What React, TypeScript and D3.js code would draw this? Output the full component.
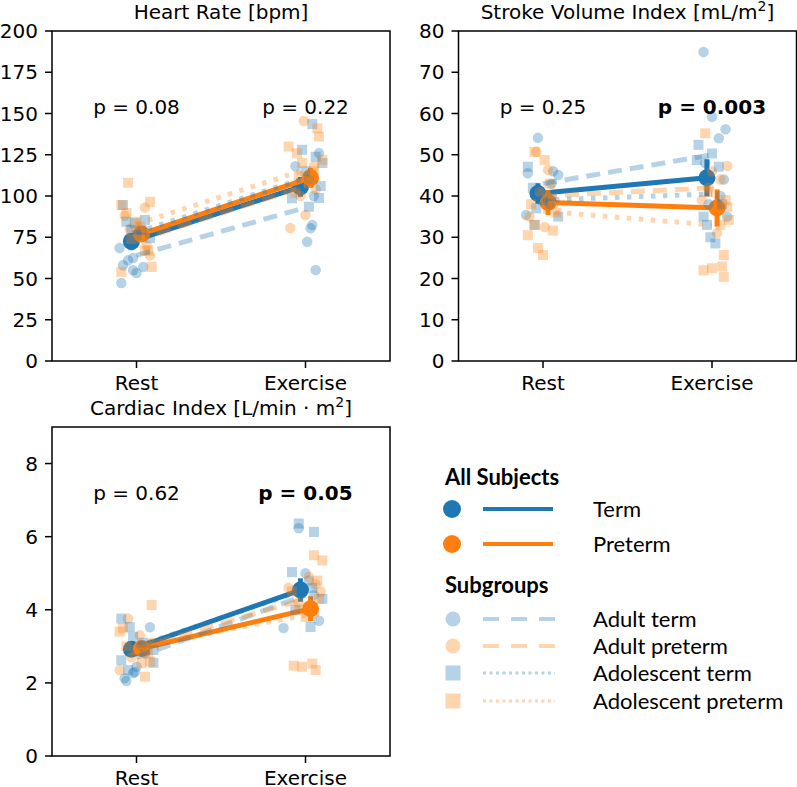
import React from "react";
import * as d3 from "d3";

// ---------- data ----------
const CONDITIONS = ["Rest", "Exercise"];

// [jitter (category units), value]
const hrAdultTermRest = [[-0.10,68.5],[-0.09,47.3],[-0.08,58],[-0.05,61],[-0.02,62.4],[-0.02,55],[0.0,53.3],[0.04,57],[-0.03,70]];
const hrAdultTermEx = [[0.04,82.4],[0.03,80.4],[0.01,72.3],[0.06,55.2],[0.08,126],[0.02,110],[0.05,100],[-0.06,118]];
const hrAdultPretermRest = [[0.05,93],[0.02,75],[-0.07,88],[0.08,64],[0.06,70],[-0.04,80]];
const hrAdultPretermEx = [[-0.01,145.5],[0.0,88.5],[-0.09,80.6],[0.03,112],[0.05,118],[0.06,104],[-0.03,100]];
const hrAdolTermRest = [[-0.06,84.4],[-0.08,94.5],[-0.03,79.4],[0.08,74.5],[0.05,85.5],[0.03,79.4],[-0.01,83.6],[0.0,76]];
const hrAdolTermEx = [[0.04,143.6],[0.08,98.8],[-0.08,98.6],[0.02,93.5],[0.06,123.8],[-0.02,128],[0.0,115],[0.1,120],[0.09,106]];
const hrAdolPretermRest = [[-0.05,108],[-0.09,94.5],[0.08,96.5],[0.0,84.4],[0.09,57],[-0.09,54],[0.05,67],[0.07,67],[0.02,81.4],[-0.06,89.7],[-0.03,74]];
const hrAdolPretermEx = [[0.07,141],[0.08,136],[-0.05,125.9],[-0.02,120],[0.05,115],[-0.04,112],[0.02,108],[-0.06,102],[-0.1,130],[0.1,122]];

const svAdultTermRest = [[-0.03,54.1],[-0.09,45.5],[0.09,45.1],[-0.1,35.4],[0.05,43],[-0.02,41],[0.04,38],[0.06,46]];
const svAdultTermEx = [[-0.05,74.9],[0.0,59.2],[0.08,56.2],[0.04,54],[-0.04,48],[0.07,44],[0.05,40],[-0.02,38],[0.09,35]];
const svAdultPretermRest = [[-0.04,50.7],[0.03,46.3],[-0.02,41],[0.06,38],[-0.08,35],[0.01,32.5]];
const svAdultPretermEx = [[0.09,47.3],[0.03,31],[-0.02,42],[0.05,44],[-0.06,39],[0.0,46]];
const svAdolTermRest = [[-0.09,47.1],[0.09,35],[-0.06,42],[0.0,39],[-0.04,37],[0.05,40],[-0.05,33]];
const svAdolTermEx = [[-0.08,52.4],[0.0,50.3],[-0.09,48.7],[0.04,47.1],[0.02,28.5],[-0.03,33],[0.06,38],[-0.05,35],[-0.01,30]];
const svAdolPretermRest = [[-0.05,50.7],[0.01,48.7],[-0.09,30.5],[-0.03,27.4],[0.0,25.7],[0.06,31.6],[-0.05,33],[0.08,36],[0.04,43],[-0.07,38]];
const svAdolPretermEx = [[-0.04,55.2],[-0.05,22],[0.0,22.5],[0.06,22.9],[0.07,20.4],[0.07,25.7],[0.1,34.2],[0.09,37.4],[0.08,39],[-0.02,41],[0.05,33]];

const ciAdultTermRest = [[0.08,3.52],[-0.07,2.13],[-0.02,2.27],[0.0,2.44],[-0.06,2.05],[-0.01,2.3],[0.03,3.0],[0.05,2.8]];
const ciAdultTermEx = [[-0.04,6.23],[-0.13,3.5],[0.08,3.7],[0.05,4.4],[0.02,4.8],[0.0,5.0]];
const ciAdultPretermRest = [[-0.05,3.76],[0.02,3.3],[-0.1,2.35],[0.06,2.9],[0.09,3.1],[-0.03,2.7]];
const ciAdultPretermEx = [[0.06,4.7],[0.02,4.9],[0.09,4.5],[-0.04,4.2],[-0.1,4.6],[0.05,3.9]];
const ciAdolTermRest = [[-0.09,3.76],[-0.04,3.53],[-0.02,3.26],[-0.09,2.62],[-0.05,2.35],[0.1,2.9],[0.04,3.1],[0.1,2.55]];
const ciAdolTermEx = [[-0.04,6.36],[0.05,6.13],[-0.08,5.03],[0.03,3.53],[0.1,4.3],[-0.06,4.0],[0.04,4.6]];
const ciAdolPretermRest = [[0.09,4.13],[-0.1,3.4],[0.03,2.54],[0.08,2.58],[0.05,2.17],[-0.06,3.0],[0.07,2.8],[-0.08,3.5],[0.0,2.9]];
const ciAdolPretermEx = [[0.05,5.49],[0.1,5.35],[-0.07,2.47],[-0.02,2.44],[0.04,2.53],[0.06,2.35],[0.08,4.3],[-0.04,4.0],[0.0,3.8],[0.07,4.8],[-0.08,4.5]];

// group means [rest, exercise] and error half-widths
const hrTermMean = [72.5, 105.5];
const hrTermErr = [5, 6];
const hrPretermMean = [77, 111];
const hrPretermErr = [4, 6];
const svTermMean = [40.6, 44.4];
const svTermErr = [2.5, 4.5];
const svPretermMean = [38.4, 37.1];
const svPretermErr = [3, 4.5];
const ciTermMean = [2.92, 4.54];
const ciTermErr = [0.15, 0.32];
const ciPretermMean = [2.94, 4.03];
const ciPretermErr = [0.15, 0.34];

// subgroup means [rest, exercise]
const hrSubMeans = [[64, 93], [73, 106], [78, 111], [83, 116]];
const svSubMeans = [[43, 50], [40, 42], [39, 40.5], [36.3, 33]];
const ciSubMeans = [[2.7, 4.4], [2.95, 4.3], [3.0, 4.55], [3.0, 3.85]];

const pLabelsHR = ["p = 0.08", "p = 0.22"];
const pBoldHR = [false, false];
const pLabelsSV = ["p = 0.25", "p = 0.003"];
const pBoldSV = [false, true];
const pLabelsCI = ["p = 0.62", "p = 0.05"];
const pBoldCI = [false, true];

const hrTicks = [0, 25, 50, 75, 100, 125, 150, 175, 200];
const svTicks = [0, 10, 20, 30, 40, 50, 60, 70, 80];
const ciTicks = [0, 2, 4, 6, 8];

const SUBGROUP_NAMES = ["Adult term", "Adult preterm", "Adolescent term", "Adolescent preterm"];

// ---------- style ----------
const BLUE = "#1f77b4";
const ORANGE = "#ff7f0e";
const SUB_STYLE = [
  { color: BLUE, shape: "circle", dash: "14,8" },
  { color: ORANGE, shape: "circle", dash: "14,8" },
  { color: BLUE, shape: "square", dash: "4.5,7.5" },
  { color: ORANGE, shape: "square", dash: "4.5,7.5" },
];
const FONT = "DejaVu Sans, sans-serif";
const LFONT = "Lato, sans-serif";
const FS = 20;

type Pt = number[];

interface PanelDef {
  title: React.ReactNode;
  box: { left: number; right: number; top: number; bottom: number };
  ymax: number;
  ticks: number[];
  sub: Pt[][][];
  subMeans: number[][];
  termMean: number[];
  termErr: number[];
  pretermMean: number[];
  pretermErr: number[];
  pLabels: string[];
  pBold: boolean[];
  pY: number;
}

const panels: PanelDef[] = [
  {
    title: "Heart Rate [bpm]",
    box: { left: 52, right: 390, top: 31, bottom: 361 },
    ymax: 200,
    ticks: hrTicks,
    sub: [
      [hrAdultTermRest, hrAdultTermEx],
      [hrAdultPretermRest, hrAdultPretermEx],
      [hrAdolTermRest, hrAdolTermEx],
      [hrAdolPretermRest, hrAdolPretermEx],
    ],
    subMeans: hrSubMeans,
    termMean: hrTermMean, termErr: hrTermErr,
    pretermMean: hrPretermMean, pretermErr: hrPretermErr,
    pLabels: pLabelsHR, pBold: pBoldHR, pY: 150,
  },
  {
    title: (
      <>
        Stroke Volume Index [mL/m<tspan baselineShift="super" fontSize="14">2</tspan>]
      </>
    ),
    box: { left: 458.5, right: 796.5, top: 31, bottom: 361 },
    ymax: 80,
    ticks: svTicks,
    sub: [
      [svAdultTermRest, svAdultTermEx],
      [svAdultPretermRest, svAdultPretermEx],
      [svAdolTermRest, svAdolTermEx],
      [svAdolPretermRest, svAdolPretermEx],
    ],
    subMeans: svSubMeans,
    termMean: svTermMean, termErr: svTermErr,
    pretermMean: svPretermMean, pretermErr: svPretermErr,
    pLabels: pLabelsSV, pBold: pBoldSV, pY: 60,
  },
  {
    title: (
      <>
        Cardiac Index [L/min · m<tspan baselineShift="super" fontSize="14">2</tspan>]
      </>
    ),
    box: { left: 52, right: 390, top: 427, bottom: 756 },
    ymax: 9,
    ticks: ciTicks,
    sub: [
      [ciAdultTermRest, ciAdultTermEx],
      [ciAdultPretermRest, ciAdultPretermEx],
      [ciAdolTermRest, ciAdolTermEx],
      [ciAdolPretermRest, ciAdolPretermEx],
    ],
    subMeans: ciSubMeans,
    termMean: ciTermMean, termErr: ciTermErr,
    pretermMean: ciPretermMean, pretermErr: ciPretermErr,
    pLabels: pLabelsCI, pBold: pBoldCI, pY: 7,
  },
];

const MEAN_OFFSET = 0.03;
const SUB_ALPHA = 0.33;

function Marker({ shape, cx, cy, size, fill, opacity }: any) {
  if (shape === "square") {
    return <rect x={cx - size / 2} y={cy - size / 2} width={size} height={size} fill={fill} fillOpacity={opacity} />;
  }
  return <circle cx={cx} cy={cy} r={size / 2} fill={fill} fillOpacity={opacity} />;
}

function Panel({ p }: { p: PanelDef }) {
  const { left, right, top, bottom } = p.box;
  const x = d3.scaleLinear().domain([-0.5, 1.5]).range([left, right]);
  const y = d3.scaleLinear().domain([0, p.ymax]).range([bottom, top]);
  const line = d3.line<number[]>().x((d) => x(d[0])).y((d) => y(d[1]));

  const mainGroups = [
    { mean: p.termMean, err: p.termErr, color: BLUE, off: -MEAN_OFFSET },
    { mean: p.pretermMean, err: p.pretermErr, color: ORANGE, off: MEAN_OFFSET },
  ];

  return (
    <g>
      {mainGroups.map((g, gi) => (
        <g key={"m" + gi}>
          <path
            d={line(g.mean.map((v, i) => [i + g.off, v])) || ""}
            fill="none"
            stroke={g.color}
            strokeWidth={5}
          />
          {g.mean.map((v, i) => (
            <line
              key={"e" + i}
              x1={x(i + g.off)}
              x2={x(i + g.off)}
              y1={y(v - g.err[i])}
              y2={y(v + g.err[i])}
              stroke={g.color}
              strokeWidth={5}
            />
          ))}
          {g.mean.map((v, i) => (
            <circle key={"c" + i} cx={x(i + g.off)} cy={y(v)} r={8.5} fill={g.color} />
          ))}
        </g>
      ))}
      {p.sub.map((conds, si) =>
        conds.map((pts, ci) =>
          pts.map((pt, k) => (
            <Marker
              key={`s${si}-${ci}-${k}`}
              shape={SUB_STYLE[si].shape}
              cx={x(ci + pt[0])}
              cy={y(pt[1])}
              size={SUB_STYLE[si].shape === "square" ? 10 : 10.5}
              fill={SUB_STYLE[si].color}
              opacity={SUB_ALPHA}
            />
          ))
        )
      )}
      {p.subMeans.map((m, si) => (
        <path
          key={"l" + si}
          d={line(m.map((v, i) => [i, v])) || ""}
          fill="none"
          stroke={SUB_STYLE[si].color}
          strokeOpacity={SUB_ALPHA}
          strokeWidth={5}
          strokeDasharray={SUB_STYLE[si].dash}
        />
      ))}
      {p.pLabels.map((t, i) => (
        <text
          key={"p" + i}
          x={x(i)}
          y={y(p.pY)}
          textAnchor="middle"
          fontFamily={FONT}
          fontSize={FS}
          fontWeight={p.pBold[i] ? "bold" : "normal"}
          fill="#000"
        >
          {t}
        </text>
      ))}
      <rect x={left} y={top} width={right - left} height={bottom - top} fill="none" stroke="#000" strokeWidth={1.5} />
      {p.ticks.map((t) => (
        <g key={"yt" + t}>
          <line x1={left - 7} x2={left} y1={y(t)} y2={y(t)} stroke="#000" strokeWidth={1.5} />
          <text x={left - 14} y={y(t)} dy="0.36em" textAnchor="end" fontFamily={FONT} fontSize={FS} fill="#000">
            {t}
          </text>
        </g>
      ))}
      {CONDITIONS.map((c, i) => (
        <g key={"xt" + c}>
          <line x1={x(i)} x2={x(i)} y1={bottom} y2={bottom + 7} stroke="#000" strokeWidth={1.5} />
          <text x={x(i)} y={bottom + 29} textAnchor="middle" fontFamily={FONT} fontSize={FS} fill="#000">
            {c}
          </text>
        </g>
      ))}
      <text x={(left + right) / 2} y={top - 12} textAnchor="middle" fontFamily={FONT} fontSize={FS} fill="#000">
        {p.title}
      </text>
    </g>
  );
}

function Legend() {
  const mx = 452;
  const lx1 = 483;
  const lx2 = 555;
  const tx = 593;
  const mainRows = [
    { label: "Term", color: BLUE, y: 509 },
    { label: "Preterm", color: ORANGE, y: 544 },
  ];
  const subRows = [619, 646, 673, 701];
  return (
    <g>
      <text x={445} y={485} fontFamily={LFONT} fontWeight="bold" fontSize={22} fill="#000">
        All Subjects
      </text>
      {mainRows.map((r) => (
        <g key={r.label}>
          <circle cx={mx} cy={r.y} r={9} fill={r.color} />
          <line x1={lx1} x2={lx2 - 2} y1={r.y} y2={r.y} stroke={r.color} strokeWidth={4} />
          <text x={tx} y={r.y + 7.5} fontFamily={LFONT} fontSize={22} fill="#000">
            {r.label}
          </text>
        </g>
      ))}
      <text x={445} y={593} fontFamily={LFONT} fontWeight="bold" fontSize={22} fill="#000">
        Subgroups
      </text>
      {SUBGROUP_NAMES.map((name, si) => {
        const yy = subRows[si];
        const st = SUB_STYLE[si];
        return (
          <g key={name}>
            <Marker shape={st.shape} cx={mx + 1} cy={yy} size={15} fill={st.color} opacity={SUB_ALPHA} />
            <line
              x1={lx1}
              x2={lx2}
              y1={yy}
              y2={yy}
              stroke={st.color}
              strokeOpacity={SUB_ALPHA}
              strokeWidth={st.shape === "square" ? 3 : 4}
              strokeDasharray={st.shape === "square" ? "3,3.5" : "16,12"}
            />
            <text x={tx} y={yy + 7.5} fontFamily={LFONT} fontSize={22} fill="#000">
              {name}
            </text>
          </g>
        );
      })}
    </g>
  );
}

export default function App() {
  return (
    <div style={{ position: "absolute", left: 0, top: 0 }}>
      <svg width={797} height={787} viewBox="0 0 797 787" style={{ display: "block", background: "#fff" }}>
        <rect x={0} y={0} width={797} height={787} fill="#fff" />
        {panels.map((p, i) => (
          <Panel key={i} p={p} />
        ))}
        <Legend />
      </svg>
    </div>
  );
}
